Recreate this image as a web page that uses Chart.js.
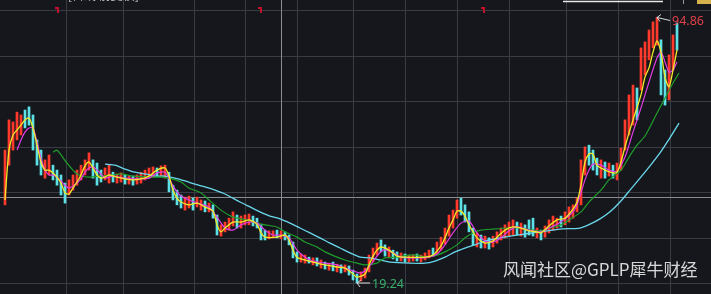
<!DOCTYPE html>
<html>
<head>
<meta charset="utf-8">
<script src="https://cdn.jsdelivr.net/npm/chart.js@4.4.0/dist/chart.umd.min.js"></script>
<style>
html, body { margin: 0; padding: 0; background: #15171c; overflow: hidden; }
canvas { display: block; }
</style>
</head>
<body>
<canvas id="kline" width="711" height="294"></canvas>
<script>
// daily candles, one per trading day (index), prices
const candleHigh = [
    57.1, 65.7, 65.1, 67.9, 67.1, 68.5, 69.4, 67.1, 60.0, 57.1,
    54.3, 55.7, 52.8, 51.4, 50.0, 47.7, 48.6, 50.0, 51.4, 52.8,
    54.3, 56.3, 54.3, 53.4, 51.4, 52.0, 52.8, 50.8, 50.3, 50.6,
    50.0, 49.7, 49.7, 50.0, 50.8, 51.4, 52.0, 52.3, 52.0, 52.6,
    52.8, 50.8, 47.1, 45.7, 44.3, 43.7, 44.0, 43.4, 43.7, 42.9,
    42.6, 42.0, 41.5, 38.6, 35.8, 36.6, 37.7, 39.5, 38.6, 38.3,
    38.6, 38.9, 38.3, 37.7, 35.8, 34.3, 34.1, 34.1, 34.3, 34.1,
    33.8, 32.9, 30.9, 28.1, 27.5, 27.2, 26.6, 26.4, 26.4, 25.8,
    25.2, 24.9, 25.2, 24.6, 24.4, 24.4, 24.1, 22.9, 21.8, 22.4,
    23.5, 27.2, 29.2, 30.6, 31.5, 30.1, 29.5, 28.6, 28.1, 27.8,
    27.5, 27.2, 27.2, 27.5, 27.2, 27.8, 28.6, 29.2, 30.9, 32.3,
    34.9, 38.6, 40.0, 42.9, 43.4, 41.5, 39.5, 34.9, 33.5, 32.9,
    32.6, 32.1, 32.6, 33.8, 34.9, 35.8, 36.6, 37.2, 36.6, 36.3,
    35.8, 37.2, 37.7, 34.9, 34.3, 35.5, 37.2, 38.3, 37.7, 38.3,
    39.5, 40.9, 41.5, 43.4, 54.3, 58.0, 58.5, 57.1, 54.8, 54.3,
    53.7, 53.4, 52.8, 53.4, 57.7, 65.7, 72.8, 75.6, 74.8, 86.2,
    87.9, 91.3, 93.6, 94.86, 88.5, 79.9, 84.2, 89.9, 93.3
];
const candleLow = [
    41.5, 52.8, 57.1, 60.0, 61.4, 63.4, 64.2, 57.1, 52.8, 50.0,
    49.1, 50.0, 48.6, 47.1, 44.3, 42.0, 44.3, 45.7, 47.1, 48.6,
    50.0, 51.4, 49.1, 47.1, 48.0, 48.6, 47.7, 48.0, 47.7, 48.0,
    47.4, 47.4, 47.1, 47.4, 47.7, 48.6, 49.1, 49.4, 49.7, 49.7,
    49.1, 45.2, 42.9, 41.5, 40.6, 40.0, 40.6, 40.0, 40.9, 40.0,
    39.5, 39.5, 37.7, 32.9, 32.6, 33.8, 34.3, 35.5, 34.9, 34.9,
    35.8, 35.8, 35.5, 34.9, 31.5, 31.5, 31.8, 32.1, 32.1, 31.8,
    31.5, 30.1, 26.4, 25.2, 25.2, 24.9, 24.9, 24.4, 24.1, 23.5,
    23.2, 22.9, 22.7, 22.4, 22.1, 22.4, 21.5, 20.1, 19.24, 19.8,
    20.7, 22.4, 25.2, 27.2, 28.1, 26.9, 26.4, 26.1, 25.5, 25.5,
    25.2, 25.2, 25.5, 25.5, 25.2, 25.8, 26.4, 26.9, 27.5, 28.6,
    30.3, 32.6, 34.9, 37.7, 38.6, 36.6, 33.8, 30.1, 29.5, 29.2,
    29.2, 28.9, 29.5, 30.6, 31.5, 32.1, 32.6, 32.9, 32.9, 32.6,
    32.3, 32.9, 32.6, 32.1, 31.5, 32.3, 33.5, 34.3, 34.9, 35.2,
    35.8, 36.6, 37.7, 39.5, 41.5, 50.0, 52.8, 51.4, 50.0, 49.1,
    49.1, 49.7, 49.1, 48.6, 51.4, 57.1, 61.4, 64.2, 65.7, 74.2,
    78.5, 82.8, 86.2, 87.0, 72.8, 69.9, 71.4, 79.9, 85.6
];
// 1 = up day (red), 0 = down day (cyan)
const candleUp = [
    1,1,1,1,1,0,0,0,0,0, 1,1,0,0,0,0,1,1,1,1, 1,1,0,0,0,1,1,0,1,1,
    0,1,0,1,1,1,1,1,0,1, 1,0,0,0,0,1,1,0,1,1, 0,1,0,0,1,1,1,1,0,1,
    1,1,0,0,0,0,1,1,0,1, 0,0,0,0,1,1,0,1,0,1, 0,1,0,1,0,1,0,0,0,1,
    1,1,1,1,0,0,1,0,0,1, 0,1,1,0,1,1,1,0,1,1, 1,1,1,1,0,0,0,0,1,0,
    1,0,1,1,1,1,1,1,0,1, 0,0,0,1,0,1,1,1,1,0, 1,1,1,1,1,1,0,0,0,1,
    0,1,0,1,1,1,1,1,0,1, 1,1,1,1,0,0,1,1,0
];

// moving averages as [day index, price]
const ma5 = [
    [0,42.9],[1,57.1],[2,61.4],[3,62.8],[4,64.2],[5,65.7],[6,66.2],[7,63.4],[8,58.5],[9,53.7],
    [10,51.4],[11,51.4],[12,50.6],[13,49.4],[14,47.7],[15,44.9],[16,44.6],[17,46.3],[18,48.0],[19,50.0],
    [20,52.6],[21,53.7],[22,52.0],[23,50.0],[24,49.1],[25,49.4],[26,50.0],[28,49.4],[30,48.9],[32,48.6],
    [34,48.9],[36,49.7],[38,51.4],[40,52.0],[41,49.7],[42,45.7],[43,43.4],[44,42.3],[46,41.5],[48,42.0],
    [50,40.9],[52,39.7],[53,35.8],[54,33.8],[55,34.9],[57,36.6],[59,36.6],[61,37.2],[63,36.0],[64,33.5],
    [65,32.3],[68,32.3],[70,32.9],[71,31.5],[72,28.6],[73,26.6],[75,25.8],[78,24.9],[80,24.4],[83,23.8],
    [85,23.5],[87,21.8],[88,20.9],[90,21.8],[91,24.4],[92,26.9],[93,28.6],[94,29.5],[96,28.6],[98,26.9],
    [100,26.6],[105,26.6],[107,27.2],[109,29.8],[110,32.1],[111,34.9],[112,37.2],[113,39.7],[114,39.7],[115,38.3],
    [116,35.8],[118,32.1],[120,30.6],[122,31.2],[123,32.3],[125,34.3],[127,35.2],[129,34.9],[131,34.1],[133,33.8],
    [134,33.5],[136,35.5],[138,37.2],[140,37.7],[142,40.3],[143,42.3],[144,47.1],[145,53.7],[146,56.0],[147,56.0],
    [148,52.8],[150,51.4],[152,50.6],[153,50.8],[154,53.7],[155,58.0],[156,62.0],[157,65.7],[159,72.8],[160,77.9],
    [161,80.5],[162,85.0],[163,88.2],[164,85.0],[165,77.9],[166,75.1],[167,79.9],[168,85.6]
];
const ma10 = [
    [3,57.1],[4,60.0],[5,62.2],[6,63.4],[7,63.4],[8,59.4],[9,54.8],[10,51.4],[11,50.0],[12,50.0],
    [13,49.4],[14,48.3],[15,47.1],[16,46.3],[17,46.9],[18,47.7],[19,48.9],[20,50.8],[21,52.0],[22,52.3],
    [23,51.4],[24,50.3],[25,49.1],[27,49.7],[30,49.1],[34,48.9],[36,49.1],[38,50.6],[40,50.8],[41,49.1],
    [42,46.9],[43,45.2],[44,44.0],[46,42.9],[49,41.7],[51,40.9],[53,38.0],[55,34.9],[57,34.3],[59,35.8],
    [61,36.6],[63,36.3],[65,34.3],[67,32.9],[69,32.9],[71,32.1],[73,28.6],[75,26.6],[77,25.5],[80,24.9],
    [83,24.4],[85,23.5],[87,22.7],[89,22.1],[91,23.8],[93,26.9],[94.5,28.6],[96,28.4],[99,26.6],[101,26.4],
    [104,26.4],[106,26.6],[108,27.5],[110,30.1],[112,33.5],[114,36.3],[116,36.9],[118,33.5],[120,31.2],[122,30.9],
    [124,32.1],[126,34.1],[128,35.2],[131,34.3],[134,33.8],[136,34.9],[138,36.0],[140,37.5],[142,39.5],[143,41.5],
    [145,48.6],[146,51.4],[147,53.1],[149,52.8],[151,51.4],[153,51.1],[155,55.1],[156,58.5],[157,62.2],[159,69.1],
    [161,76.5],[163,83.3],[164,85.0],[165,82.2],[166,79.3],[167,79.9],[168,82.2]
];
const ma30 = [
    [12,56.5],[13,57.1],[14,55.7],[15.5,53.4],[17.5,50.8],[19,49.7],[21,49.4],[24,49.7],[27,50.0],[29,50.3],
    [32,49.7],[36,49.4],[39,49.4],[41,49.1],[44,48.0],[46,46.3],[49,44.9],[51,42.9],[54,40.0],[57,38.0],
    [59,37.5],[62,36.6],[65,35.8],[68,35.2],[70,33.8],[73,32.3],[75,30.9],[78,29.5],[80,28.1],[83,26.6],
    [85,25.8],[88,24.9],[90,24.4],[93,24.9],[95,26.4],[98,26.6],[101,27.2],[103,27.2],[105,26.6],[108,27.2],
    [110,28.1],[113,30.1],[115,32.1],[117,33.5],[119,34.3],[122,34.6],[126,34.9],[129,34.9],[132,34.3],[134,34.1],
    [136,34.9],[139,35.8],[141,37.2],[144,39.5],[146,42.3],[149,45.7],[151,48.6],[154,51.4],[156,55.1],[158,58.5],
    [160,61.1],[162.5,66.5],[165,71.9],[167,76.2],[168.5,79.0]
];
const ma60 = [
    [25,53.1],[27.5,52.8],[30,51.7],[32.5,50.8],[35,50.3],[37.5,49.7],[40,49.7],[42.5,49.1],[45,48.3],[47.5,47.4],
    [50,46.6],[52.5,45.7],[55,44.6],[58.75,42.3],[61.25,40.9],[63.75,39.5],[66.25,38.3],[68.75,37.5],[71.25,36.3],[73.75,34.9],
    [76.25,33.5],[78.75,32.1],[81.25,30.6],[83.75,29.2],[86.25,27.8],[88.75,26.6],[91.25,26.4],[93.75,25.8],[96.25,25.2],[101.25,24.9],
    [105,24.9],[107.5,25.5],[110,26.6],[112.5,28.1],[115,29.2],[117.5,30.1],[120,31.2],[122.5,31.8],[126.25,32.6],[130,33.2],
    [133.75,33.8],[138.75,34.6],[143.75,34.9],[146.25,36.0],[148.75,37.5],[151.25,39.5],[153.75,42.3],[156.25,45.7],[158.75,49.1],[161.25,52.6],
    [163.75,56.3],[165.75,59.7],[168.5,64.8]
];

// grid: month boundaries (day index) and price levels
const monthStarts = [15.25, 29.5, 47.25, 60, 73, 87, 100, 113, 126, 140.25, 153.25, 166.25];
const priceLevels = [19.24, 32.2, 45.2, 58.1, 71.1, 84.0, 97.0];
const cursorDay = 69;
const cursorPrice = 43.7;
const eventDays = [13, 63.75, 119.5];
const peakDay = 163, peakPrice = 94.86;
const lowDay = 88, lowPrice = 19.24;
const watermark = '风闻社区@GPLP犀牛财经';

const klineCanvas = document.getElementById('kline');

const candles = candleHigh.map((h, i) => ({ x: i, y: [candleLow[i], h] }));
const toPts = arr => arr.map(p => ({ x: p[0], y: p[1] }));

const klineDecor = {
    id: 'klineDecor',
    beforeDraw(chart) {
        const ctx = chart.ctx;
        ctx.save();
        ctx.fillStyle = '#15171c';
        ctx.fillRect(0, 0, chart.width, chart.height);
        ctx.restore();
    },
    beforeDatasetsDraw(chart) {
        const ctx = chart.ctx;
        const xs = chart.scales.x, ys = chart.scales.y;
        const area = chart.chartArea;
        ctx.save();
        ctx.lineWidth = 1;
        ctx.strokeStyle = '#393c42';
        monthStarts.forEach(d => {
            const x = Math.round(xs.getPixelForValue(d)) + 0.5;
            ctx.beginPath(); ctx.moveTo(x, area.top); ctx.lineTo(x, area.bottom); ctx.stroke();
        });
        priceLevels.forEach(p => {
            const y = Math.round(ys.getPixelForValue(p)) + 0.5;
            ctx.beginPath(); ctx.moveTo(area.left, y); ctx.lineTo(area.right, y); ctx.stroke();
        });
        // crosshair
        ctx.strokeStyle = '#8a8c90';
        const cx = Math.round(xs.getPixelForValue(cursorDay)) + 0.5;
        const cy = Math.round(ys.getPixelForValue(cursorPrice)) + 0.5;
        ctx.beginPath(); ctx.moveTo(cx, area.top); ctx.lineTo(cx, area.bottom); ctx.stroke();
        ctx.beginPath(); ctx.moveTo(area.left, cy); ctx.lineTo(area.right, cy); ctx.stroke();
        ctx.restore();
    },
    afterDatasetsDraw(chart) {
        const ctx = chart.ctx;
        const xs = chart.scales.x, ys = chart.scales.y;
        ctx.save();

        // event flags along the top
        ctx.fillStyle = '#c0102a';
        eventDays.forEach(d => {
            const x = Math.round(xs.getPixelForValue(d));
            ctx.fillRect(x - 2, 7, 4, 2);
            ctx.fillRect(x, 7, 2, 6);
        });

        // clipped header bits
        ctx.font = '12px "Noto Sans CJK SC"';
        ctx.textBaseline = 'alphabetic';
        ctx.fillStyle = '#d0d0d0';
        ctx.fillText('[日线 前复权]', 68, 0);
        ctx.fillStyle = '#e0303a';
        ctx.fillText('MA5', 128, 0);
        ctx.strokeStyle = '#e8e8e8';
        ctx.lineWidth = 1.5;
        ctx.beginPath(); ctx.moveTo(563, 1.5); ctx.lineTo(663, 1.5); ctx.stroke();
        ctx.fillStyle = '#9a9a9a';
        ctx.fillRect(683, 0, 1, 4);
        ctx.fillStyle = '#d6b24c';
        ctx.fillRect(697, 0, 14, 4);

        // max / min markers
        const drawMark = (day, price, text, color, dy) => {
            const tx = xs.getPixelForValue(day);
            const ty = ys.getPixelForValue(price);
            ctx.strokeStyle = '#d8d8d8';
            ctx.lineWidth = 1;
            ctx.beginPath();
            ctx.moveTo(tx, ty); ctx.lineTo(tx + 13, ty + dy);
            ctx.moveTo(tx, ty); ctx.lineTo(tx + 4, ty - 3);
            ctx.moveTo(tx, ty); ctx.lineTo(tx + 3, ty + 4);
            ctx.stroke();
            ctx.font = '12.5px "Noto Sans"';
            ctx.textBaseline = 'middle';
            ctx.fillStyle = color;
            ctx.fillText(text, tx + 15, ty + dy + 1);
        };
        drawMark(peakDay, peakPrice, peakPrice.toFixed(2), '#e0404a', 3);
        drawMark(lowDay, lowPrice, lowPrice.toFixed(2), '#3aae6c', 0);

        // watermark
        ctx.font = '17px "Noto Sans CJK SC"';
        ctx.textBaseline = 'middle';
        ctx.fillStyle = 'rgba(232,232,232,0.92)';
        ctx.fillText(watermark, 503, 270);
        ctx.restore();
    }
};

new Chart(klineCanvas, {
    type: 'bar',
    data: {
        datasets: [
            {
                type: 'line',
                label: 'MA5',
                data: toPts(ma5),
                borderColor: '#f2ea28',
                borderWidth: 1.3,
                pointRadius: 0,
                tension: 0.25,
                order: 1
            },
            {
                type: 'line',
                label: 'MA10',
                data: toPts(ma10),
                borderColor: '#e23ce6',
                borderWidth: 1.2,
                pointRadius: 0,
                tension: 0.25,
                order: 2
            },
            {
                type: 'line',
                label: 'MA30',
                data: toPts(ma30),
                borderColor: '#1f9e2c',
                borderWidth: 1.2,
                pointRadius: 0,
                tension: 0.25,
                order: 3
            },
            {
                type: 'line',
                label: 'MA60',
                data: toPts(ma60),
                borderColor: '#6ad8ec',
                borderWidth: 1.3,
                pointRadius: 0,
                tension: 0.25,
                order: 4
            },
            {
                type: 'bar',
                label: 'K',
                data: candles,
                backgroundColor: candleUp.map(u => u ? '#ff3a2c' : '#5ce2e6'),
                barThickness: 2,
                grouped: false,
                order: 5
            }
        ]
    },
    options: {
        responsive: false,
        animation: false,
        devicePixelRatio: 1,
        layout: { padding: 0 },
        plugins: {
            legend: { display: false },
            tooltip: { enabled: false }
        },
        scales: {
            x: { type: 'linear', min: -1.25, max: 176.5, display: false, offset: false },
            y: { min: 16.11, max: 99.84, display: false }
        }
    },
    plugins: [klineDecor]
});
</script>
</body>
</html>
